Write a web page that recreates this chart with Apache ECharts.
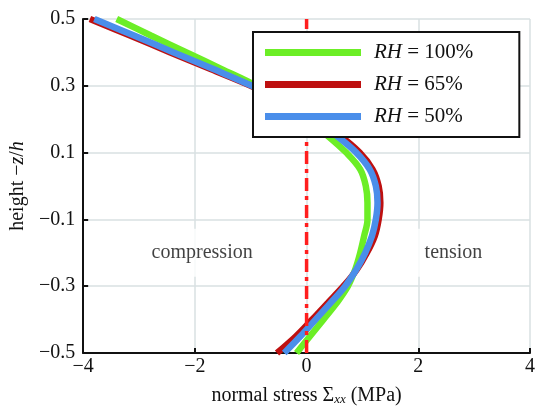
<!DOCTYPE html>
<html>
<head>
<meta charset="utf-8">
<script src="https://cdn.jsdelivr.net/npm/echarts@6/dist/echarts.min.js"></script>
<style>
html,body{margin:0;padding:0;background:#fff;}
#chart{width:538px;height:411px;}
</style>
</head>
<body>
<div id="chart"></div>
<script>
// heights -z/h (y values)
const heights = [0.5,0.45,0.4,0.35,0.3,0.25,0.2,0.15,0.1,0.05,0,-0.05,-0.1,-0.15,-0.2,-0.25,-0.3,-0.35,-0.4,-0.45,-0.5];
// normal stress (MPa) for each height
const stressRH100 = [-3.40,-2.78,-2.15,-1.52,-0.90,-0.40,0.00,0.38,0.71,0.96,1.06,1.09,1.09,1.03,0.96,0.87,0.74,0.54,0.30,0.06,-0.18];
const stressRH65  = [-3.88,-3.15,-2.44,-1.72,-1.00,-0.38,0.16,0.60,0.95,1.18,1.29,1.32,1.29,1.22,1.08,0.90,0.66,0.38,0.10,-0.19,-0.53];
const stressRH50  = [-3.80,-3.08,-2.38,-1.67,-0.98,-0.38,0.12,0.54,0.89,1.13,1.24,1.27,1.24,1.17,1.05,0.89,0.69,0.43,0.16,-0.11,-0.40];
const seriesNames = ['RH = 100%','RH = 65%','RH = 50%'];
const seriesColors = ['#6CEE26','#BE1010','#4A8EEA'];
const zeroLine = [[0,-0.5],[0,0.5]];
const annotations = [
  {text:'compression', x:-1.87, y:-0.2},
  {text:'tension', x:2.63, y:-0.2}
];
const xTicks = {min:-4, max:4, interval:2};
const yTicks = {min:-0.5, max:0.5, interval:0.2};

const serif = '"Liberation Serif","Times New Roman",serif';
const fmtNum = v => {
  const r = Math.round(v*10)/10;
  return (r < 0 ? '\u2212' : '') + String(Math.abs(r));
};

function pairs(xs){ return xs.map((x,i)=>[x, heights[i]]); }
const allStress = [stressRH100, stressRH65, stressRH50];

const chart = echarts.init(document.getElementById('chart'), null, {renderer:'canvas'});
const series = allStress.map((s,i)=>({
  name: seriesNames[i],
  type:'line',
  data: pairs(s),
  smooth: 0.35,
  showSymbol:false,
  symbol:'none',
  lineStyle:{color:seriesColors[i], width:6.5, cap:'butt'},
  itemStyle:{color:seriesColors[i]},
  z: 2+i
}));
series.push({
  name:'zero',
  type:'line',
  data: zeroLine,
  showSymbol:false,
  symbol:'none',
  lineStyle:{color:'#FF1E1E', width:3.5, type:[13,5,4,5]},
  z: 10
});
series.push({
  name:'annot',
  type:'scatter',
  data: annotations.map(a=>({value:[a.x,a.y], name:a.text})),
  symbolSize:0,
  z: 1,
  label:{
    show:true, position:'inside',
    formatter: p=>p.name,
    fontFamily: serif, fontSize:20, color:'#111',
    backgroundColor:'#fff', padding:[14,8]
  },
  silent:true
});

chart.setOption({
  animation:false,
  backgroundColor:'#fff',
  grid:{left:81, right:3, top:19, bottom:54, containLabel:false},
  xAxis:{
    type:'value', min:xTicks.min, max:xTicks.max, interval:xTicks.interval,
    axisLine:{show:true, onZero:false, lineStyle:{color:'#111', width:2}},
    axisTick:{show:true, inside:true, length:5, lineStyle:{color:'#111', width:2}},
    axisLabel:{formatter:fmtNum, fontFamily:serif, fontSize:20, color:'#111', margin:4},
    splitLine:{show:true, lineStyle:{color:'#D8E0E2', width:1.5}},
    name:'normal stress \u03A3{sub|xx} (MPa)',
    nameLocation:'middle', nameGap:32,
    nameTextStyle:{fontFamily:serif, fontSize:20, color:'#111',
      rich:{sub:{fontFamily:serif, fontStyle:'italic', fontSize:13, color:'#111', verticalAlign:'bottom', padding:[8,0,0,0]}}}
  },
  yAxis:{
    type:'value', min:yTicks.min, max:yTicks.max, interval:yTicks.interval,
    axisLine:{show:true, onZero:false, lineStyle:{color:'#111', width:2}},
    axisTick:{show:true, inside:true, length:5, lineStyle:{color:'#111', width:2}},
    axisLabel:{formatter:fmtNum, fontFamily:serif, fontSize:20, color:'#111', margin:8},
    splitLine:{show:true, lineStyle:{color:'#D8E0E2', width:1.5}},
    name:'height \u2212{i|z}/{i|h}',
    nameLocation:'middle', nameGap:52,
    nameTextStyle:{fontFamily:serif, fontSize:20, color:'#111',
      rich:{i:{fontFamily:serif, fontStyle:'italic', fontSize:20, color:'#111'}}}
  },
  legend:{
    data: seriesNames,
    orient:'vertical',
    left:253, top:32,
    z: 50, zlevel: 0,
    backgroundColor:'#fff',
    borderColor:'#111', borderWidth:2,
    padding:[9,46,9,12],
    itemWidth:96, itemHeight:7, itemGap:9,
    icon:'rect',
    formatter: n => '{i|RH}' + n.slice(2),
    textStyle:{fontFamily:serif, fontSize:21, color:'#111', lineHeight:23, padding:[0,0,0,8],
      rich:{i:{fontFamily:serif, fontStyle:'italic', fontSize:21, color:'#111', lineHeight:23}}}
  },
  series: series
});
</script>
</body>
</html>
